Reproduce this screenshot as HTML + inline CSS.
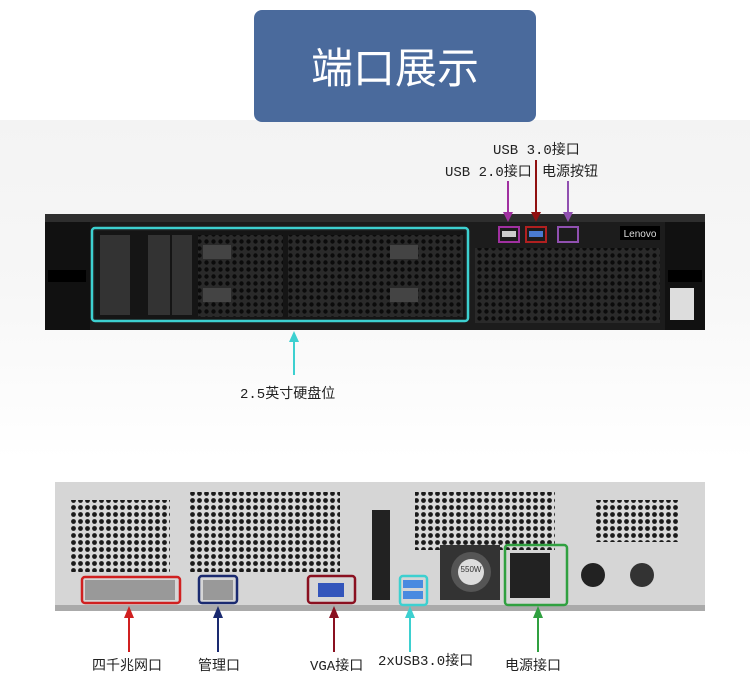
<!DOCTYPE html>
<html><head><meta charset="utf-8"><style>
html,body{margin:0;padding:0;background:#fff;}
svg{display:block;font-family:"Liberation Mono","Noto Sans CJK SC",monospace;}
</style></head><body>
<svg width="750" height="677" viewBox="0 0 750 677" xmlns="http://www.w3.org/2000/svg">
<defs>
<pattern id="hd" width="7" height="7" patternUnits="userSpaceOnUse"><rect width="7" height="7" fill="#2a2a2a"/><circle cx="3.5" cy="3.5" r="2.2" fill="#0b0b0b"/></pattern>
<pattern id="hl" width="7" height="7" patternUnits="userSpaceOnUse"><rect width="7" height="7" fill="#d9d9d9"/><circle cx="3.5" cy="3.5" r="2.4" fill="#1a1a1a"/></pattern>
<linearGradient id="bg" x1="0" y1="0" x2="0" y2="1"><stop offset="0" stop-color="#f3f3f3"/><stop offset="0.5" stop-color="#f7f7f7"/><stop offset="1" stop-color="#ffffff"/></linearGradient>
</defs>
<rect width="750" height="677" fill="#fff"/>
<rect x="0" y="120" width="750" height="340" fill="url(#bg)"/>
<!-- title -->
<rect x="254" y="10" width="282" height="112" rx="8" fill="#4a6a9c"/>
<text x="395" y="83" text-anchor="middle" font-size="42" fill="#fff" font-family="'Noto Sans CJK SC',sans-serif">端口展示</text>

<!-- front chassis -->
<rect x="45" y="214" width="660" height="116" fill="#1c1c1c"/>
<rect x="45" y="214" width="660" height="8" fill="#2e2e2e"/>
<rect x="45" y="222" width="45" height="108" fill="#111"/>
<rect x="665" y="222" width="40" height="108" fill="#111"/>
<rect x="48" y="270" width="38" height="12" fill="#000"/>
<rect x="668" y="270" width="34" height="12" fill="#000"/>
<rect x="670" y="288" width="24" height="32" fill="#ddd"/>
<rect x="95" y="231" width="370" height="88" fill="#151515"/>
<rect x="100" y="235" width="30" height="80" fill="#333"/>
<rect x="148" y="235" width="22" height="80" fill="#333"/>
<rect x="172" y="235" width="20" height="80" fill="#333"/>
<rect x="198" y="235" width="85" height="82" fill="url(#hd)"/>
<rect x="203" y="245" width="28" height="14" fill="#444"/>
<rect x="203" y="288" width="28" height="14" fill="#444"/>
<rect x="288" y="235" width="175" height="82" fill="url(#hd)"/>
<rect x="390" y="245" width="28" height="14" fill="#444"/>
<rect x="390" y="288" width="28" height="14" fill="#444"/>
<rect x="92" y="228" width="376" height="93" fill="none" stroke="#3dd0d0" stroke-width="2.5" rx="3"/>
<rect x="475" y="248" width="185" height="75" fill="url(#hd)"/>
<rect x="499" y="227" width="20" height="15" fill="none" stroke="#a030a0" stroke-width="2"/>
<rect x="502" y="231" width="14" height="6" fill="#ccc"/>
<rect x="526" y="227" width="20" height="15" fill="none" stroke="#b02020" stroke-width="2"/>
<rect x="529" y="231" width="14" height="6" fill="#4a7ad0"/>
<rect x="558" y="227" width="20" height="15" fill="none" stroke="#9050b0" stroke-width="2"/>
<rect x="620" y="226" width="40" height="14" fill="#000"/>
<text x="640" y="237" text-anchor="middle" font-size="10" fill="#ddd" font-family="'Liberation Sans',sans-serif">Lenovo</text>

<!-- top labels -->
<text x="493" y="154" font-size="14" fill="#222">USB 3.0接口</text>
<text x="445" y="176" font-size="14" fill="#222">USB 2.0接口</text>
<text x="542" y="176" font-size="14" fill="#222">电源按钮</text>
<line x1="508" y1="181" x2="508" y2="214" stroke="#a030a0" stroke-width="2"/><polygon points="503,212 513,212 508,222" fill="#a030a0"/>
<line x1="536" y1="160" x2="536" y2="214" stroke="#901010" stroke-width="2"/><polygon points="531,212 541,212 536,222" fill="#901010"/>
<line x1="568" y1="181" x2="568" y2="214" stroke="#9050b0" stroke-width="2"/><polygon points="563,212 573,212 568,222" fill="#9050b0"/>
<line x1="294" y1="340" x2="294" y2="375" stroke="#3dd0d0" stroke-width="2"/><polygon points="289,342 299,342 294,331" fill="#3dd0d0"/>
<text x="240" y="398" font-size="14" fill="#222">2.5英寸硬盘位</text>

<!-- rear chassis -->
<rect x="55" y="482" width="650" height="128" fill="#d6d6d6"/>
<rect x="55" y="605" width="650" height="6" fill="#aaa"/>
<rect x="70" y="500" width="100" height="72" fill="url(#hl)"/>
<rect x="190" y="492" width="150" height="80" fill="url(#hl)"/>
<rect x="415" y="492" width="140" height="58" fill="url(#hl)"/>
<rect x="595" y="500" width="85" height="42" fill="url(#hl)"/>
<rect x="372" y="510" width="18" height="90" fill="#222"/>
<rect x="440" y="545" width="60" height="55" fill="#333"/>
<circle cx="471" cy="572" r="20" fill="#555"/><circle cx="471" cy="572" r="13" fill="#ddd"/>
<text x="471" y="572" text-anchor="middle" font-size="8" fill="#333" font-family="'Liberation Sans',sans-serif">550W</text>
<rect x="510" y="553" width="40" height="45" fill="#222"/>
<circle cx="593" cy="575" r="12" fill="#222"/><circle cx="642" cy="575" r="12" fill="#333"/>
<rect x="85" y="580" width="90" height="20" fill="#999"/>
<rect x="203" y="580" width="30" height="20" fill="#999"/>
<rect x="318" y="583" width="26" height="14" fill="#3355bb"/>
<rect x="403" y="580" width="20" height="8" fill="#4a8ae0"/><rect x="403" y="591" width="20" height="8" fill="#4a8ae0"/>
<rect x="82" y="577" width="98" height="26" fill="none" stroke="#d02020" stroke-width="2.5" rx="3"/>
<rect x="199" y="576" width="38" height="27" fill="none" stroke="#1a2a70" stroke-width="2.5" rx="3"/>
<rect x="308" y="576" width="47" height="27" fill="none" stroke="#8a1020" stroke-width="2.5" rx="3"/>
<rect x="400" y="576" width="27" height="29" fill="none" stroke="#3dd0d0" stroke-width="2.5" rx="3"/>
<rect x="505" y="545" width="62" height="60" fill="none" stroke="#30a040" stroke-width="2.5" rx="3"/>

<!-- bottom arrows -->
<g stroke-width="2">
<line x1="129" y1="616" x2="129" y2="652" stroke="#d02020"/><polygon points="124,618 134,618 129,606" fill="#d02020"/>
<line x1="218" y1="616" x2="218" y2="652" stroke="#1a2a70"/><polygon points="213,618 223,618 218,606" fill="#1a2a70"/>
<line x1="334" y1="616" x2="334" y2="652" stroke="#8a1020"/><polygon points="329,618 339,618 334,606" fill="#8a1020"/>
<line x1="410" y1="616" x2="410" y2="652" stroke="#3dd0d0"/><polygon points="405,618 415,618 410,606" fill="#3dd0d0"/>
<line x1="538" y1="616" x2="538" y2="652" stroke="#30a040"/><polygon points="533,618 543,618 538,606" fill="#30a040"/>
</g>
<text x="92" y="670" font-size="14" fill="#222">四千兆网口</text>
<text x="198" y="670" font-size="14" fill="#222">管理口</text>
<text x="310" y="670" font-size="14" fill="#222">VGA接口</text>
<text x="378" y="665" font-size="14" fill="#222">2xUSB3.0接口</text>
<text x="505" y="670" font-size="14" fill="#222">电源接口</text>
</svg>
</body></html>
